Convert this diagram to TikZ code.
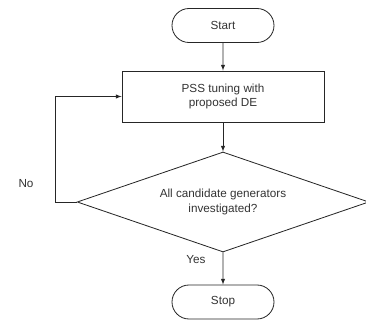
\documentclass[tikz,border=0pt]{standalone}
\usepackage{fontspec}
\setmainfont{Liberation Sans}
\usetikzlibrary{shapes.geometric,shapes.misc}

\begin{document}
\begin{tikzpicture}[x=0.03cm, y=-0.03cm, >=latex,
	every node/.style={text=black!80},
	terminal/.style={draw=black!85, line width=0.7pt, rounded rectangle, minimum width=3.06cm, minimum height=1.02cm, inner sep=0pt},
	process/.style={draw=black!85, line width=0.7pt, rectangle, minimum width=6.06cm, minimum height=1.53cm, align=center, inner sep=0pt},
	decision/.style={draw=black!85, line width=0.7pt, diamond, minimum width=8.75cm, minimum height=3cm, aspect=2.9, align=center, inner sep=0pt},
	flow/.style={->, line width=0.7pt, color=black!85}]
			%%%%% START %%%%%
			\useasboundingbox (0, 0) rectangle (366, 320);
			
			\node[terminal] (start) at (223, 25.5) {Start};
			\node[process] (pss) at (223, 96.5) {PSS tuning with\\proposed DE};
			\node[decision] (alldone) at (223, 202) {All candidate generators\\investigated?};
			\node[terminal] (stop) at (223, 302) {Stop};
			
			\coordinate (noturn) at (55, 202);
			
			\draw[flow] (start) -- (pss);
			\draw[flow] (pss) -- (alldone);
			\draw[flow] (alldone.west) -- (noturn) |- (pss.west);
			\draw[flow] (alldone) -- (stop);
			
			\node (nolabel) at (26, 184) {No};
			\node (yeslabel) at (196, 260) {Yes};
			
			%%%%% END %%%%%
\end{tikzpicture}
\end{document}
